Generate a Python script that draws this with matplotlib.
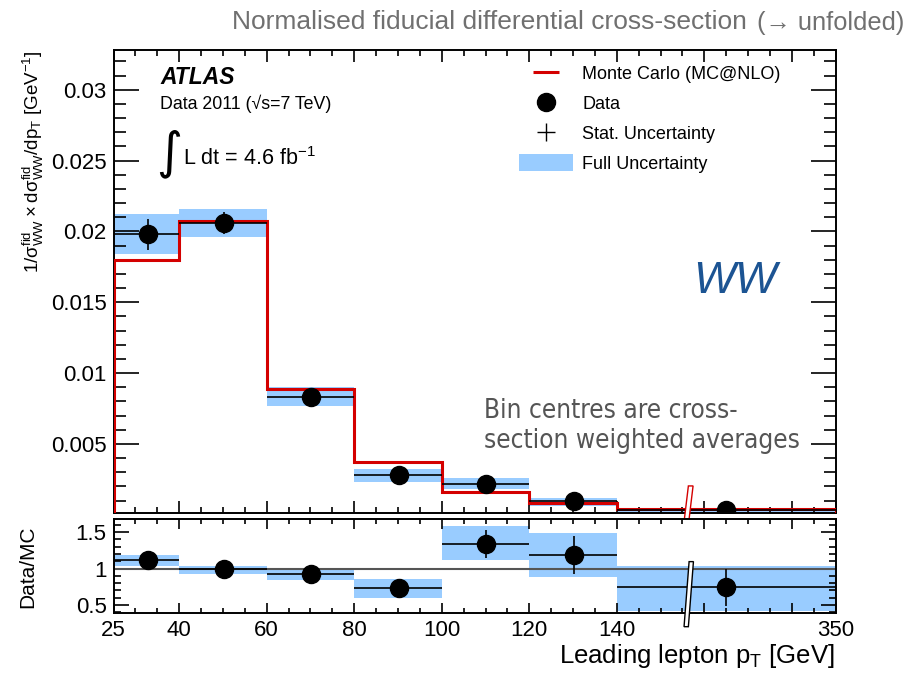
import numpy as np
import matplotlib
matplotlib.use("Agg")
import matplotlib.pyplot as plt
from matplotlib.lines import Line2D
from matplotlib.patches import Patch, Polygon
from matplotlib.ticker import FixedLocator, FuncFormatter, MultipleLocator

plt.rcParams['font.family'] = ['Liberation Sans', 'DejaVu Sans']
plt.rcParams['mathtext.default'] = 'regular'

# bin edges in GeV (last bin is drawn compressed)
edges = np.array([25, 40, 60, 80, 100, 120, 140, 350])
centres = np.array([32.8, 50.2, 70.2, 90.3, 110.2, 130.2, 245.0])

# normalised cross-section
data = np.array([0.0198, 0.0206, 0.0083, 0.0028, 0.0022, 0.0010, 0.0003])
mc = np.array([0.0180, 0.0207, 0.0089, 0.0037, 0.0016, 0.00085, 0.00043])
full_lo = np.array([0.0184, 0.0196, 0.0077, 0.0023, 0.0018, 0.0006, 0.00006])
full_hi = np.array([0.0212, 0.0216, 0.0090, 0.0032, 0.0026, 0.0012, 0.0005])
stat_lo = np.array([0.0187, 0.0198, 0.0080, 0.0026, 0.0021, 0.0009, 0.0002])
stat_hi = np.array([0.0209, 0.0214, 0.0086, 0.0030, 0.0023, 0.0011, 0.0004])

# data / MC
ratio = np.array([1.11, 0.99, 0.93, 0.73, 1.34, 1.19, 0.74])
ratio_full_lo = np.array([1.03, 0.93, 0.84, 0.60, 1.11, 0.88, 0.42])
ratio_full_hi = np.array([1.19, 1.04, 0.98, 0.86, 1.58, 1.49, 1.04])
ratio_stat_lo = np.array([1.05, 0.95, 0.88, 0.66, 1.15, 0.92, 0.48])
ratio_stat_hi = np.array([1.17, 1.03, 0.98, 0.80, 1.53, 1.45, 1.00])

break_at = 209.0

# broken axis: 140-350 squeezed into 50 "GeV" of width
def fwd(x):
    x = np.asarray(x, dtype=float)
    return np.where(x <= 140, x, 140 + (x - 140) * 50.0 / 210.0)

def inv(d):
    d = np.asarray(d, dtype=float)
    return np.where(d <= 140, d, 140 + (d - 140) * 210.0 / 50.0)

blue = '#99ccff'
red = '#d40000'

fig = plt.figure(figsize=(9.12, 6.75), dpi=100)
ax = fig.add_axes([0.1245, 0.2396, 0.7918, 0.6863])
rx = fig.add_axes([0.1245, 0.0919, 0.7918, 0.1393])

xerr = np.array([centres - edges[:-1], edges[1:] - centres])

for a in (ax, rx):
    a.set_xscale('function', functions=(fwd, inv))
    a.set_xlim(25, 350)

# main panel
ax.bar(edges[:-1], full_hi - full_lo, bottom=full_lo, width=np.diff(edges),
       align='edge', color=blue, lw=0, zorder=1)
ax.stairs(mc, edges, color=red, lw=2.2, zorder=3)
ax.errorbar(centres, data, xerr=xerr, yerr=[data - stat_lo, stat_hi - data],
            fmt='none', ecolor='black', elinewidth=1.2, capsize=0, zorder=4)
ax.plot(centres, data, 'o', color='black', ms=13, zorder=5)
ax.set_ylim(0.0001, 0.0328)

# ratio panel
rx.bar(edges[:-1], ratio_full_hi - ratio_full_lo, bottom=ratio_full_lo,
       width=np.diff(edges), align='edge', color=blue, lw=0, zorder=1)
rx.axhline(1.0, color='#555555', lw=1.5, zorder=2)
rx.errorbar(centres, ratio, xerr=xerr,
            yerr=[ratio - ratio_stat_lo, ratio_stat_hi - ratio],
            fmt='none', ecolor='black', elinewidth=1.2, capsize=0, zorder=4)
rx.plot(centres, ratio, 'o', color='black', ms=13, zorder=5)
rx.set_ylim(0.39, 1.68)

# ticks
minor_disp = np.arange(25, 191, 5)
major_disp = [40, 60, 80, 100, 120, 140, 160, 180]
for a in (ax, rx):
    a.xaxis.set_minor_locator(FixedLocator(inv(minor_disp)))
    for s in a.spines.values():
        s.set_linewidth(1.4)
for a in (ax, rx):
    a.set_xticks(list(inv(major_disp)) + [25, 350])
rx.set_xticklabels([str(v) for v in [40, 60, 80, 100, 120, 140]] + ['', '', '25', '350'])
ax.set_xticklabels([])

ax.yaxis.set_major_locator(MultipleLocator(0.005))
ax.yaxis.set_minor_locator(MultipleLocator(0.001))
ax.yaxis.set_major_formatter(FuncFormatter(lambda v, p: '%g' % round(v, 4)))
rx.yaxis.set_major_locator(MultipleLocator(0.5))
rx.yaxis.set_minor_locator(MultipleLocator(0.1))
rx.yaxis.set_major_formatter(FuncFormatter(lambda v, p: '%g' % v))

ax.tick_params(which='both', direction='in', top=True, right=True, labelsize=16, pad=5)
ax.tick_params(axis='y', which='major', length=18, width=1.2)
ax.tick_params(axis='y', which='minor', length=8.5, width=1.2)
ax.tick_params(axis='x', which='major', length=8.5, width=1.2)
ax.tick_params(axis='x', which='minor', length=4.5, width=1.2)
rx.tick_params(which='both', direction='in', top=True, right=True, labelsize=16, pad=5)
rx.tick_params(axis='y', which='major', length=11, width=1.2)
rx.tick_params(axis='y', which='minor', length=5, width=1.2)
rx.tick_params(axis='x', which='major', length=7, width=1.2)
rx.tick_params(axis='x', which='minor', length=3.5, width=1.2)

# break markers
bf = (fwd(break_at) - fwd(25)) / (fwd(350) - fwd(25))
ax.add_patch(Polygon([(bf - 0.006, -0.012), (bf + 0.0005, -0.012),
                      (bf + 0.006, 0.059), (bf - 0.0005, 0.059)],
                     closed=True, transform=ax.transAxes, fc='white', ec=red,
                     lw=1.0, clip_on=False, zorder=6))
rx.add_patch(Polygon([(bf - 0.0065, -0.146), (bf - 0.0005, -0.146),
                      (bf + 0.0065, 0.546), (bf + 0.0005, 0.546)],
                     closed=True, transform=rx.transAxes, fc='white', ec='black',
                     lw=1.0, clip_on=False, zorder=6))

# labels
fig.text(33 / 912, 1 - 50 / 675,
         r'$1/\sigma^{fid}_{WW} \times d\sigma^{fid}_{WW}/dp_{T}$ [GeV$^{-1}$]',
         rotation=90, ha='center', va='top', fontsize=13.5)
fig.text(28 / 912, 1 - 567 / 675, 'Data/MC', rotation=90, ha='center',
         va='center', fontsize=15)
fig.text(835 / 912, 1 - 670 / 675, r'Leading lepton p$_{T}$ [GeV]',
         ha='right', va='bottom', fontsize=18.5)

fig.text(747 / 912, 1 - 22 / 675, 'Normalised fiducial differential cross-section',
         fontsize=19, color='#707070', ha='right', va='center')
fig.text(757 / 912, 1 - 23 / 675, '(\u2192 unfolded)',
         fontsize=18.3, color='#707070', ha='left', va='center')

fig.text(160 / 912, 1 - 84 / 675, 'ATLAS', fontsize=16.5, fontweight='bold',
         fontstyle='italic', ha='left', va='baseline')
fig.text(160 / 912, 1 - 109 / 675, 'Data 2011 (\u221as=7 TeV)', fontsize=12.8,
         ha='left', va='baseline')
fig.text(156 / 912, 1 - 154 / 675, '\u222b', fontsize=36, ha='left',
         va='center', family=['DejaVu Sans'])
fig.text(183 / 912, 1 - 165 / 675, r'L dt = 4.6 fb$^{-1}$', fontsize=15.5,
         ha='left', va='baseline')

fig.text(693 / 912, 1 - 293 / 675, 'WW', fontsize=32, fontstyle='italic',
         color='#1c5493', ha='left', va='baseline')

fig.text(484 / 912, 1 - 448 / 675, 'Bin centres are cross-\nsection weighted averages',
         fontsize=18.8, color='#555555', ha='left', va='baseline',
         family=['DejaVu Sans'], fontstretch='condensed', linespacing=1.2)

# legend
handles = [
    Line2D([], [], color=red, marker='_', ms=19, mew=2.2, ls='none'),
    Line2D([], [], color='black', marker='o', ms=13, ls='none'),
    Line2D([], [], color='black', marker='+', ms=13, mew=1.0, ls='none'),
    Patch(facecolor=blue, edgecolor='none'),
]
labels = ['Monte Carlo (MC@NLO)', 'Data', 'Stat. Uncertainty', 'Full Uncertainty']
fig.legend(handles, labels, loc='upper left', bbox_to_anchor=(519 / 912, 1 - 65 / 675),
           bbox_transform=fig.transFigure, frameon=False, fontsize=13,
           handlelength=3.0, handleheight=1.0, handletextpad=0.5,
           labelspacing=0.64, borderpad=0, borderaxespad=0)

fig.savefig('out.png', dpi=100)
